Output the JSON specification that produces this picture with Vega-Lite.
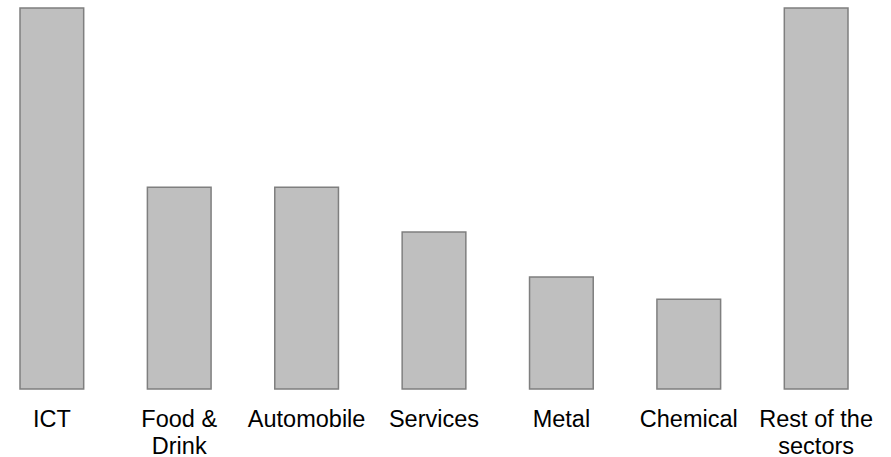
{
  "$schema": "https://vega.github.io/schema/vega-lite/v6.json",
  "description": "Number of companies by sector",
  "width": 828,
  "height": 381,
  "autosize": {"type": "none"},
  "padding": {"left": 20, "top": 8, "right": 43, "bottom": 68},
  "background": "white",
  "data": {
    "values": [
      {"sector": "ICT", "count": 17},
      {"sector": "Food & Drink", "count": 9},
      {"sector": "Automobile", "count": 9},
      {"sector": "Services", "count": 7},
      {"sector": "Metal", "count": 5},
      {"sector": "Chemical", "count": 4},
      {"sector": "Rest of the sectors", "count": 17}
    ]
  },
  "mark": {"type": "bar", "fill": "#bfbfbf", "stroke": "#7f7f7f", "strokeWidth": 1.5},
  "encoding": {
    "x": {
      "field": "sector",
      "type": "nominal",
      "sort": null,
      "scale": {"paddingInner": 0.5, "paddingOuter": 0},
      "axis": {
        "title": null,
        "domain": false,
        "ticks": false,
        "labelAngle": 0,
        "labelFont": "Liberation Sans",
        "labelFontSize": 23.5,
        "labelColor": "black",
        "labelPadding": 18,
        "labelLineHeight": 27,
        "labelExpr": "datum.value == 'Food & Drink' ? ['Food &', 'Drink'] : datum.value == 'Rest of the sectors' ? ['Rest of the', 'sectors'] : datum.value"
      }
    },
    "y": {
      "field": "count",
      "type": "quantitative",
      "scale": {"domain": [0, 17]},
      "axis": null
    }
  },
  "config": {"view": {"stroke": null}}
}
